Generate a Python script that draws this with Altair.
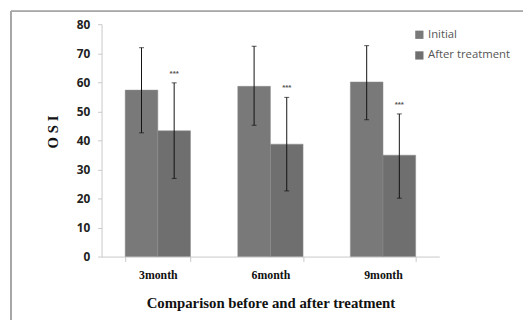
import altair as alt
import pandas as pd

months = ["3month", "6month", "9month"]
series = ["Initial", "After treatment"]
initial_mean = [57.3, 58.6, 60.1]
initial_lo = [42.6, 45.2, 47.1]
initial_hi = [71.9, 72.4, 72.6]
after_mean = [43.3, 38.7, 34.9]
after_lo = [26.9, 22.6, 20.1]
after_hi = [59.8, 54.8, 49.1]
stars = ["***", "***", "***"]
colors = ["#797979", "#6f6f6f"]
y_ticks = [0, 10, 20, 30, 40, 50, 60, 70, 80]

rows = []
for i, m in enumerate(months):
    rows.append(dict(month=m, series="Initial", mean=initial_mean[i], lo=initial_lo[i], hi=initial_hi[i], star=""))
    rows.append(dict(month=m, series="After treatment", mean=after_mean[i], lo=after_lo[i], hi=after_hi[i], star=stars[i]))
df = pd.DataFrame(rows)

W, H = 343, 236
yscale = alt.Scale(domain=[0, 80])
xscale = alt.Scale(paddingInner=0.42, paddingOuter=0.21)

x_axis = alt.Axis(title="Comparison before and after treatment", labelAngle=0,
                  tickBand="extent", domainColor="#c8c8c8", tickColor="#c8c8c8",
                  tickSize=5, labelPadding=8,
                  labelFont="Liberation Serif", labelFontWeight="bold", labelFontSize=12,
                  labelColor="#111111",
                  titleFont="Liberation Serif", titleFontWeight="bold", titleFontSize=15,
                  titleColor="#111111", titlePadding=16)
y_axis = alt.Axis(title="O S I", values=y_ticks, tickCount=9, grid=False,
                  labelOverlap=False,
                  domainColor="#c8c8c8", tickColor="#c8c8c8", tickSize=4,
                  labelPadding=8, labelFont="Open Sans", labelFontWeight="bold",
                  labelFontSize=12, labelColor="#222222",
                  titleFont="Liberation Serif", titleFontWeight="bold", titleFontSize=15,
                  titleColor="#111111", titleAngle=270, titleX=-50, titleY=109,
                  titleBaseline="middle", titleAlign="center")

xs = alt.X("month:N", sort=months, scale=xscale, axis=x_axis)
xo = alt.XOffset("series:N", sort=series, scale=alt.Scale(paddingInner=0, paddingOuter=0))

def yenc(field):
    return alt.Y(field, scale=yscale, axis=y_axis)

bars = alt.Chart(df).mark_bar(stroke="#8c8c8c", strokeWidth=0.5).encode(
    x=xs, xOffset=xo, y=yenc("mean:Q"),
    color=alt.Color("series:N", sort=series,
                    scale=alt.Scale(domain=series, range=colors),
                    legend=alt.Legend(title=None, orient="none", legendX=317, legendY=5,
                                      symbolType="square", symbolSize=70,
                                      symbolStrokeWidth=0, labelFont="Open Sans",
                                      labelFontSize=11.5, labelColor="#555555",
                                      rowPadding=8, symbolOffset=0, labelOffset=3)))

err = alt.Chart(df).mark_rule(color="#111111", strokeWidth=1).encode(
    x=xs, xOffset=xo, y=yenc("lo:Q"), y2="hi:Q")
cap_hi = alt.Chart(df).mark_tick(color="#111111", thickness=1, size=5).encode(
    x=xs, xOffset=xo, y=yenc("hi:Q"))
cap_lo = alt.Chart(df).mark_tick(color="#111111", thickness=1, size=5).encode(
    x=xs, xOffset=xo, y=yenc("lo:Q"))
star = alt.Chart(df).mark_text(fontSize=8, color="#555555", dy=-9, fontWeight="bold").encode(
    x=xs, xOffset=xo, y=yenc("hi:Q"), text="star:N")

frame_top = alt.Chart(df).mark_rule(color="#a8a8a8", strokeWidth=1.5).encode(
    x=alt.value(-92), x2=alt.value(W + 85), y=alt.value(-13))
frame_left = alt.Chart(df).mark_rule(color="#a8a8a8", strokeWidth=1.5).encode(
    x=alt.value(-92), y=alt.value(-13), y2=alt.value(H + 80))

chart = alt.layer(bars, err, cap_hi, cap_lo, star, frame_top, frame_left).properties(
    width=W, height=H,
    autosize=alt.AutoSizeParams(type="none"),
    padding={"left": 95, "top": 14, "right": 85, "bottom": 62},
).configure(background="white").configure_view(stroke=None)

chart.save("out.html", embed_options={"renderer": "svg", "actions": False})
